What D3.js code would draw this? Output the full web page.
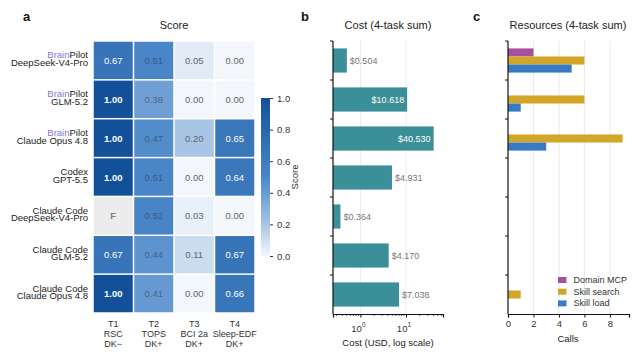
<!DOCTYPE html>
<html>
<head>
<meta charset="utf-8">
<script src="https://cdn.jsdelivr.net/npm/d3@7"></script>
<style>
  body { margin: 0; background: #fff; }
  svg { font-family: "Liberation Sans", Arial, sans-serif; }
  .tick-label { font-size: 9.5px; fill: #333; }
  .title { font-size: 11px; fill: #222; }
  .panel { font-size: 13px; font-weight: bold; fill: #111; }
</style>
</head>
<body>
<div id="chart"></div>
<script>
// Data
const agents = ['BrainPilot', 'BrainPilot', 'BrainPilot', 'Codex', 'Claude Code', 'Claude Code', 'Claude Code'];
const models = ['DeepSeek-V4-Pro', 'GLM-5.2', 'Claude Opus 4.8', 'GPT-5.5', 'DeepSeek-V4-Pro', 'GLM-5.2', 'Claude Opus 4.8'];
const tasks = [['T1', 'RSC', 'DK\u2212'], ['T2', 'TOPS', 'DK+'], ['T3', 'BCI 2a', 'DK+'], ['T4', 'Sleep-EDF', 'DK+']];
const scores = [
  [0.67, 0.51, 0.05, 0.00],
  [1.00, 0.38, 0.00, 0.00],
  [1.00, 0.47, 0.20, 0.65],
  [1.00, 0.51, 0.00, 0.64],
  [null, 0.52, 0.03, 0.00],
  [0.67, 0.44, 0.11, 0.67],
  [1.00, 0.41, 0.00, 0.66]
];
const costs = [0.504, 10.618, 40.530, 4.931, 0.364, 4.170, 7.038];
const resourceKeys = ['Domain MCP', 'Skill search', 'Skill load'];
const domainMcp = [2, 0, 0, 0, 0, 0, 0];
const skillSearch = [6, 6, 9, 0, 0, 0, 1];
const skillLoad = [5, 1, 3, 0, 0, 0, 0];
const scoreTicks = [0, 0.2, 0.4, 0.6, 0.8, 1.0];
const callTicks = [0, 2, 4, 6, 8];

const width = 638, height = 359;
const svg = d3.select('#chart').append('svg')
  .attr('width', width)
  .attr('height', height);

const rows = d3.range(agents.length);

// colour map for scores
const color = d3.scaleLinear()
  .domain([0, 0.2, 0.5, 1])
  .range(['#f3f7fc', '#a8c5e6', '#4a86c8', '#12519a']);

// ---------- panel a: heatmap ----------
const hx = d3.scaleBand().domain(d3.range(tasks.length)).range([93, 255]);
const hy = d3.scaleBand().domain(rows).range([41, 313]);

svg.append('text').attr('class', 'panel').attr('x', 23).attr('y', 21).text('a');
svg.append('text').attr('class', 'title')
  .attr('x', (93 + 255) / 2).attr('y', 29).attr('text-anchor', 'middle').text('Score');

const cells = [];
scores.forEach((r, i) => r.forEach((v, j) => cells.push({ i, j, v })));

const heat = svg.append('g');
heat.selectAll('rect')
  .data(cells)
  .join('rect')
  .attr('x', d => hx(d.j) + 0.75)
  .attr('y', d => hy(d.i) + 0.75)
  .attr('width', hx.bandwidth() - 1.5)
  .attr('height', hy.bandwidth() - 1.5)
  .attr('fill', d => d.v === null ? '#ececec' : color(d.v));

heat.selectAll('text')
  .data(cells)
  .join('text')
  .attr('x', d => hx(d.j) + hx.bandwidth() / 2)
  .attr('y', d => hy(d.i) + hy.bandwidth() / 2 + 3.5)
  .attr('text-anchor', 'middle')
  .style('font-size', '9.5px')
  .style('font-weight', d => (d.v === null || d.v === 1) ? 'bold' : 'normal')
  .attr('fill', d => {
    if (d.v === null) return '#808080';
    if (d.v > 0.6) return '#ffffff';
    if (d.v > 0.3) return 'rgba(40,50,70,0.55)';
    return '#666';
  })
  .text(d => d.v === null ? 'F' : d.v.toFixed(2));

// row labels (two lines, set tight like the original)
const rowLab = svg.append('g');
rows.forEach(i => {
  const cy = hy(i) + hy.bandwidth() / 2;
  const t1 = rowLab.append('text')
    .attr('x', 88).attr('y', cy - 2)
    .attr('text-anchor', 'end')
    .style('font-size', '9.5px').attr('fill', '#222');
  if (agents[i] === 'BrainPilot') {
    t1.append('tspan').attr('fill', '#8a72d6').text('Brain');
    t1.append('tspan').text('Pilot');
  } else {
    t1.text(agents[i]);
  }
  rowLab.append('text')
    .attr('x', 88).attr('y', cy + 5.5)
    .attr('text-anchor', 'end')
    .style('font-size', '9.5px').attr('fill', '#222')
    .text(models[i]);
});

// column labels
tasks.forEach((t, j) => {
  t.forEach((s, k) => {
    svg.append('text')
      .attr('x', hx(j) + hx.bandwidth() / 2)
      .attr('y', 327 + k * 10)
      .attr('text-anchor', 'middle')
      .style('font-size', '9px').attr('fill', '#333')
      .text(s);
  });
});

// colour bar
const cbY = d3.scaleLinear().domain([0, 1]).range([256, 98]);
const defs = svg.append('defs');
const grad = defs.append('linearGradient')
  .attr('id', 'cbgrad').attr('x1', 0).attr('x2', 0).attr('y1', 1).attr('y2', 0);
d3.range(0, 1.01, 0.1).forEach(t => {
  grad.append('stop').attr('offset', t).attr('stop-color', color(t));
});
svg.append('rect')
  .attr('x', 261).attr('y', cbY(1))
  .attr('width', 9).attr('height', cbY(0) - cbY(1))
  .attr('fill', 'url(#cbgrad)');
const cbAxis = svg.append('g')
  .attr('transform', 'translate(270,0)')
  .call(d3.axisRight(cbY).tickValues(scoreTicks).tickFormat(d3.format('.1f')).tickSize(3).tickPadding(4));
cbAxis.select('.domain').remove();
cbAxis.selectAll('line').attr('stroke', '#333');
cbAxis.selectAll('text').attr('class', 'tick-label').style('font-family', 'inherit');
svg.append('text')
  .attr('transform', 'translate(298,177) rotate(-90)')
  .attr('text-anchor', 'middle')
  .style('font-size', '9.5px').attr('fill', '#333')
  .text('Score');

// ---------- panel b: cost ----------
const by = d3.scaleBand().domain(rows).range([41, 314]).paddingInner(0.38).paddingOuter(0.19);
const bx = d3.scaleLog().domain([0.25, 65]).range([333, 443]);
const step = by.step();

svg.append('text').attr('class', 'panel').attr('x', 301).attr('y', 21).text('b');
svg.append('text').attr('class', 'title')
  .attr('x', 388).attr('y', 29).attr('text-anchor', 'middle').text('Cost (4-task sum)');

svg.append('g').selectAll('line')
  .data([1, 10])
  .join('line')
  .attr('x1', d => bx(d)).attr('x2', d => bx(d))
  .attr('y1', 41).attr('y2', 314)
  .attr('stroke', '#e3e3e3').attr('stroke-width', 0.8);

svg.append('g').selectAll('rect')
  .data(costs)
  .join('rect')
  .attr('x', bx(0.25))
  .attr('y', (d, i) => by(i))
  .attr('width', d => bx(d) - bx(0.25))
  .attr('height', by.bandwidth())
  .attr('fill', '#3b8f99');

svg.append('g').selectAll('text')
  .data(costs)
  .join('text')
  .attr('x', d => d > 10 ? bx(d) - 3 : bx(d) + 3)
  .attr('y', (d, i) => by(i) + by.bandwidth() / 2 + 3.3)
  .attr('text-anchor', d => d > 10 ? 'end' : 'start')
  .style('font-size', '9px')
  .attr('fill', d => d > 10 ? '#ffffff' : '#777')
  .text(d => '$' + d.toFixed(3));

// x axis (log)
const bAxis = svg.append('g').attr('transform', 'translate(0,314)')
  .call(d3.axisBottom(bx).tickValues([1, 10]).tickFormat('').tickSize(3.5));
bAxis.select('.domain').attr('stroke', '#111').attr('stroke-width', 1.2);
const minor = [];
[0.1, 1, 10].forEach(b => d3.range(2, 10).forEach(m => {
  const v = b * m;
  if (v >= 0.25 && v <= 65) minor.push(v);
}));
bAxis.selectAll('.minor')
  .data(minor)
  .join('line')
  .attr('class', 'minor')
  .attr('x1', d => bx(d)).attr('x2', d => bx(d))
  .attr('y1', 0).attr('y2', 2)
  .attr('stroke', '#111').attr('stroke-width', 0.7);
[1, 10].forEach((v, k) => {
  const t = svg.append('text')
    .attr('x', bx(v) - 2).attr('y', 332)
    .attr('text-anchor', 'middle')
    .attr('class', 'tick-label');
  t.append('tspan').text('10');
  t.append('tspan').attr('dy', -5).style('font-size', '6.5px').text(String(k));
});
svg.append('text')
  .attr('x', 388).attr('y', 346)
  .attr('text-anchor', 'middle')
  .style('font-size', '9.5px').attr('fill', '#222')
  .text('Cost (USD, log scale)');

// y spine with ticks at row boundaries
svg.append('line').attr('x1', 333).attr('x2', 333).attr('y1', 41).attr('y2', 314)
  .attr('stroke', '#111').attr('stroke-width', 1.2);
svg.append('g').selectAll('line')
  .data(rows)
  .join('line')
  .attr('x1', 330).attr('x2', 333)
  .attr('y1', d => by(d) - step * 0.19).attr('y2', d => by(d) - step * 0.19)
  .attr('stroke', '#111');

// ---------- panel c: resources ----------
const cx = d3.scaleLinear().domain([0, 9.5]).range([508, 629]);
const sub = d3.scaleBand().domain(resourceKeys).range([0, by.bandwidth()]);
const resColor = d3.scaleOrdinal().domain(resourceKeys).range(['#a54f9d', '#d2a628', '#3a79c4']);
const resData = [];
rows.forEach(i => {
  resData.push({ i, key: 'Domain MCP', v: domainMcp[i] });
  resData.push({ i, key: 'Skill search', v: skillSearch[i] });
  resData.push({ i, key: 'Skill load', v: skillLoad[i] });
});

svg.append('text').attr('class', 'panel').attr('x', 473).attr('y', 21).text('c');
svg.append('text').attr('class', 'title')
  .attr('x', 568).attr('y', 29).attr('text-anchor', 'middle').text('Resources (4-task sum)');

svg.append('g').selectAll('line')
  .data(callTicks.slice(1))
  .join('line')
  .attr('x1', d => cx(d)).attr('x2', d => cx(d))
  .attr('y1', 41).attr('y2', 314)
  .attr('stroke', '#e3e3e3').attr('stroke-width', 0.8);

svg.append('g').selectAll('rect')
  .data(resData.filter(d => d.v > 0))
  .join('rect')
  .attr('x', cx(0))
  .attr('y', d => by(d.i) + sub(d.key))
  .attr('width', d => cx(d.v) - cx(0))
  .attr('height', sub.bandwidth())
  .attr('fill', d => resColor(d.key));

const cAxis = svg.append('g').attr('transform', 'translate(0,314)')
  .call(d3.axisBottom(cx).tickValues(callTicks).tickSize(3.5).tickPadding(3));
cAxis.select('.domain').attr('stroke', '#111').attr('stroke-width', 1.2);
cAxis.selectAll('line').attr('stroke', '#111');
cAxis.selectAll('text').attr('class', 'tick-label').style('font-family', 'inherit');
svg.append('text')
  .attr('x', 568).attr('y', 342)
  .attr('text-anchor', 'middle')
  .style('font-size', '9.5px').attr('fill', '#222')
  .text('Calls');

svg.append('line').attr('x1', 508).attr('x2', 508).attr('y1', 41).attr('y2', 314)
  .attr('stroke', '#111').attr('stroke-width', 1.2);
svg.append('g').selectAll('line')
  .data(rows)
  .join('line')
  .attr('x1', 505).attr('x2', 508)
  .attr('y1', d => by(d) - step * 0.19).attr('y2', d => by(d) - step * 0.19)
  .attr('stroke', '#111');

// legend
const legend = svg.append('g').attr('transform', 'translate(558,277)');
const li = legend.selectAll('g')
  .data(resourceKeys)
  .join('g')
  .attr('transform', (d, i) => `translate(0, ${i * 11.7})`);
li.append('rect').attr('width', 8.5).attr('height', 6).attr('fill', d => resColor(d));
li.append('text')
  .attr('x', 15.5).attr('y', 6)
  .style('font-size', '9px').attr('fill', '#333')
  .text(d => d);
</script>
</body>
</html>
